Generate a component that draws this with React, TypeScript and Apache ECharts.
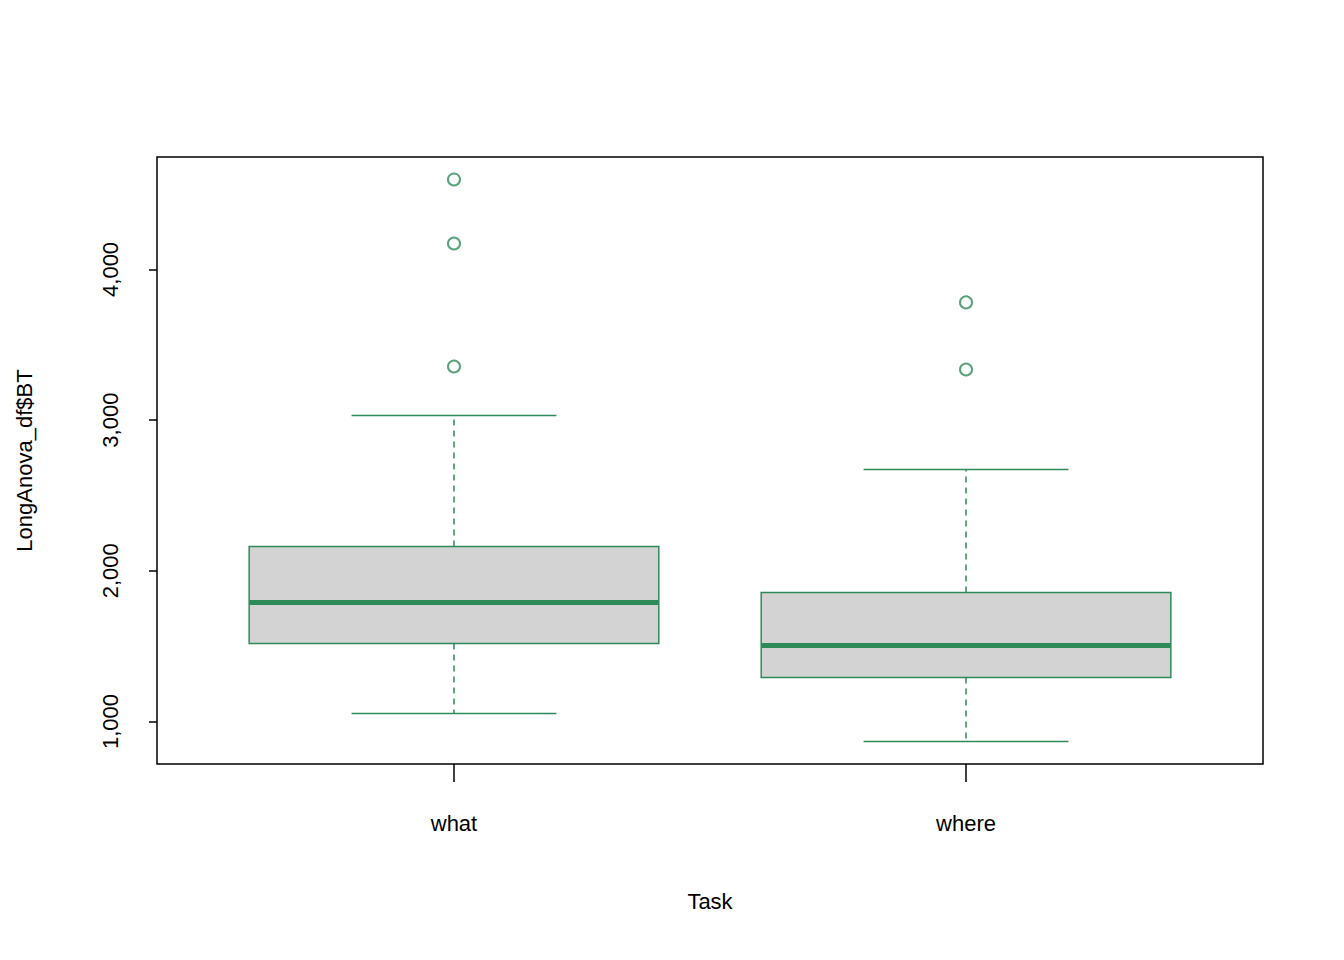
import React, { useEffect, useRef } from "react";
import * as echarts from "echarts";

const categories = ["what", "where"];
// [low whisker, Q1, median, Q3, high whisker]
const boxStats = [
  [1053, 1518, 1790, 2161, 3031],
  [867, 1292, 1504, 1856, 2673],
];
const outliers = [
  [1, 4597], [1, 4172], [1, 3356],
  [2, 3781], [2, 3336],
];
const yTicks = [1000, 2000, 3000, 4000];
const green = "#2e8b57";

export default function App() {
  const ref = useRef<HTMLDivElement>(null);
  useEffect(() => {
    const chart = echarts.init(ref.current!, null, { renderer: "svg" });
    const font = "Liberation Sans, Arial, sans-serif";
    chart.setOption({
      animation: false,
      grid: { left: 157, top: 157, right: 81, bottom: 196, show: true, borderColor: "#000", borderWidth: 1.5, backgroundColor: "transparent" },
      xAxis: {
        type: "value", min: 0.42, max: 2.58,
        name: "Task", nameLocation: "middle", nameGap: 126,
        nameTextStyle: { fontSize: 22, color: "#000", fontFamily: font },
        axisLine: { show: false },
        splitLine: { show: false },
        axisTick: { show: true, customValues: [1, 2], length: 18, lineStyle: { color: "#000", width: 1.5 } },
        axisLabel: { customValues: [1, 2], margin: 48, fontSize: 22, color: "#000", fontFamily: font,
          formatter: (v: number) => categories[Math.round(v) - 1] ?? "" },
      },
      yAxis: {
        type: "value", min: 718, max: 4746,
        name: "LongAnova_df$BT", nameLocation: "middle", nameGap: 122,
        nameTextStyle: { fontSize: 22, color: "#000", fontFamily: font },
        axisLine: { show: false },
        splitLine: { show: false },
        axisTick: { show: true, customValues: yTicks, length: 8, lineStyle: { color: "#000", width: 1.5 } },
        axisLabel: { customValues: yTicks, rotate: 90, margin: 36, fontSize: 22, color: "#000", fontFamily: font },
      },
      series: [
        {
          type: "custom",
          data: boxStats.map((s, i) => [i + 1, ...s]),
          renderItem: (params: any, api: any) => {
            const x = api.value(0);
            const p = (xv: number, yv: number) => api.coord([xv, yv]);
            const [lo, q1, med, q3, hi] = [1, 2, 3, 4, 5].map((k) => api.value(k));
            const bl = p(x - 0.4, q3), br = p(x + 0.4, q1);
            const ls = { stroke: green, lineWidth: 1.5 };
            return {
              type: "group",
              children: [
                { type: "line", shape: { x1: p(x, q3)[0], y1: p(x, q3)[1], x2: p(x, hi)[0], y2: p(x, hi)[1] }, style: { ...ls, lineDash: [6, 5] } },
                { type: "line", shape: { x1: p(x, q1)[0], y1: p(x, q1)[1], x2: p(x, lo)[0], y2: p(x, lo)[1] }, style: { ...ls, lineDash: [6, 5] } },
                { type: "line", shape: { x1: p(x - 0.2, hi)[0], y1: p(x, hi)[1], x2: p(x + 0.2, hi)[0], y2: p(x, hi)[1] }, style: ls },
                { type: "line", shape: { x1: p(x - 0.2, lo)[0], y1: p(x, lo)[1], x2: p(x + 0.2, lo)[0], y2: p(x, lo)[1] }, style: ls },
                { type: "rect", shape: { x: bl[0], y: bl[1], width: br[0] - bl[0], height: br[1] - bl[1] }, style: { fill: "#d3d3d3", stroke: green, lineWidth: 1.5 } },
                { type: "line", shape: { x1: bl[0], y1: p(x, med)[1], x2: br[0], y2: p(x, med)[1] }, style: { stroke: green, lineWidth: 5 } },
              ],
            };
          },
        },
        {
          type: "scatter",
          data: outliers,
          symbol: "emptyCircle",
          symbolSize: 12,
          itemStyle: { color: green, borderColor: green, borderWidth: 1.8 },
        },
      ],
    });
    return () => chart.dispose();
  }, []);
  return <div ref={ref} style={{ position: "absolute", left: 0, top: 0, width: 1344, height: 960 }} />;
}
